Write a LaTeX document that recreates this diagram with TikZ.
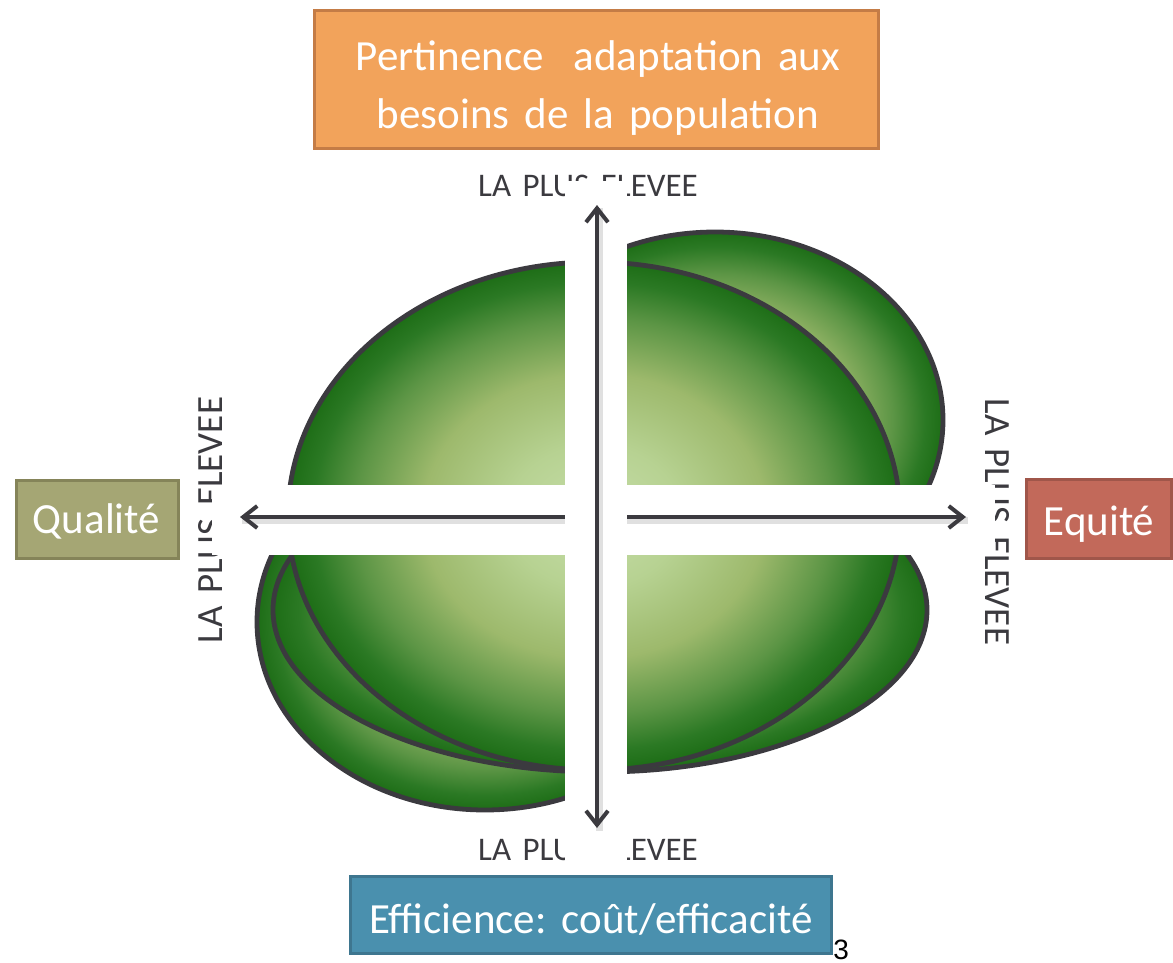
\documentclass[tikz,border=0pt]{standalone}
\usepackage{fontspec}
\setmainfont{Carlito}[WordSpace=1.55]
\newfontfamily\arialfont{Liberation Sans}
\usetikzlibrary{arrows.meta}
\frenchspacing

\definecolor{leaflight}{HTML}{C6DDA9}
\definecolor{leafpale}{HTML}{B7D292}
\definecolor{leafmid}{HTML}{9DB96C}
\definecolor{leafshade}{HTML}{5C9545}
\definecolor{leafdeep}{HTML}{2B7924}
\definecolor{leafdark}{HTML}{1D6D16}
\definecolor{edgegray}{HTML}{3B3A3F}
\definecolor{orangefill}{HTML}{F2A35B}
\definecolor{orangeedge}{HTML}{C47C46}
\definecolor{olivefill}{HTML}{A5A674}
\definecolor{oliveedge}{HTML}{858459}
\definecolor{redfill}{HTML}{C2695A}
\definecolor{rededge}{HTML}{A0564A}
\definecolor{bluefill}{HTML}{4A90AE}
\definecolor{blueedge}{HTML}{3E768F}

\pgfdeclareradialshading{leafball}{\pgfpoint{0bp}{0bp}}{color(0bp)=(leaflight); color(7bp)=(leafpale); color(14bp)=(leafmid); color(19.5bp)=(leafshade); color(23bp)=(leafdeep); color(25bp)=(leafdark); color(50bp)=(leafdark)}

\tikzstyle{leaf}=[shade, shading=leafball, draw=edgegray, line width=2.4pt]
\tikzstyle{axisline}=[draw=edgegray, line width=2pt, {Straight Barb[length=7pt,width=11pt]}-{Straight Barb[length=7pt,width=11pt]}]
\tikzstyle{axisshadow}=[draw=black!12, line width=3.5pt]
\tikzstyle{fieldbox}=[rectangle, line width=1.5pt, inner sep=0pt, outer sep=0pt]
\tikzstyle{fieldtext}=[text=white, inner sep=0pt, align=center, font=\fontsize{21.5}{29}\selectfont]
\tikzstyle{levelmark}=[text=edgegray, inner sep=0pt, anchor=base, font=\fontsize{16.5}{18}\selectfont]
\tikzstyle{sidemark}=[levelmark, font=\fontsize{18.5}{20}\selectfont]

\begin{document}
\begin{tikzpicture}[x=0.5pt, y=-0.5pt]
\useasboundingbox (0,0) rectangle (1173,963);
% Leaves, back to front
    \path[leaf] (485,622) ellipse [x radius=228, y radius=188];
    \path[leaf] (600,610) ellipse [x radius=327, y radius=162];
    \path[leaf] (715,420) ellipse [x radius=228, y radius=188];
    \path[leaf] (594,516) ellipse [x radius=306, y radius=254];
% Level marks at the arrow ends
    \node[levelmark] (topmark) at (588,197) {LA PLUS ELEVEE};
    \node[levelmark] (bottommark) at (588,860) {LA PLUS ELEVEE};
    \node[sidemark, rotate=90] (leftmark) at (222,520) {LA PLUS ELEVEE};
    \node[sidemark, rotate=-90] (rightmark) at (985,522) {LA PLUS ELEVEE};
% Arrow ends
    \coordinate (north) at (597,205);
    \coordinate (south) at (597,828);
    \coordinate (west) at (240,517);
    \coordinate (east) at (966,517);
% Horizontal band, then the vertical one on top
    \fill[white] (212,485) rectangle (995,555);
    \draw[axisshadow] ([shift={(2,3)}]west) -- ([shift={(2,3)}]east);
    \draw[axisline] (west) -- (east);
    \fill[white] (565,181) rectangle (627,866);
    \draw[axisshadow] ([shift={(2,3)}]north) -- ([shift={(2,3)}]south);
    \draw[axisline] (south) -- (north);
% Boxes
    \node[fieldbox, fill=orangefill, draw=orangeedge, minimum width=282pt, minimum height=69pt] (pertinence) at (596.5,79.5) {};
    \node[fieldtext] (pertinencetext) at (598,88.5) {Pertinence\hspace{.7em}adaptation aux\\besoins de la population};
    \node[fieldbox, fill=olivefill, draw=oliveedge, minimum width=81pt, minimum height=39pt] (qualite) at (97.5,519.5) {};
    \node[fieldtext, anchor=base] (qualitetext) at (96.5,533) {Qualité};
    \node[fieldbox, fill=redfill, draw=rededge, minimum width=72.5pt, minimum height=39.5pt] (equite) at (1099,519) {};
    \node[fieldtext, anchor=base] (equitetext) at (1099,535) {Equité};
    \node[fieldbox, fill=bluefill, draw=blueedge, minimum width=240.5pt, minimum height=38.5pt] (efficience) at (591,915) {};
    \node[fieldtext, anchor=base] (efficiencetext) at (591,933) {Efficience: coût/efficacité};
    \node[anchor=base west, inner sep=0pt, font=\arialfont\fontsize{14}{14}\selectfont] (pagenum) at (833,959) {3};
\end{tikzpicture}
\end{document}
